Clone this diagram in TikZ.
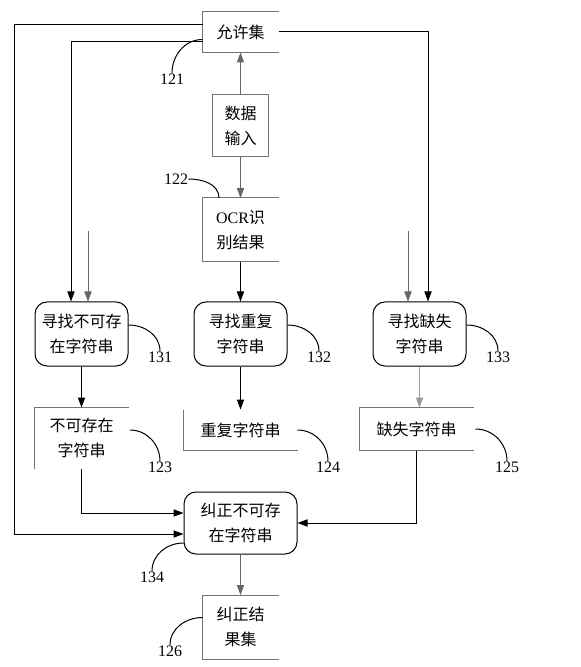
\documentclass[tikz,border=0pt]{standalone}
\usepackage{fontspec}
\setmainfont{Liberation Serif}
\newfontfamily\cjk{Noto Sans CJK SC}
\usetikzlibrary{arrows.meta}

\begin{document}
\begin{tikzpicture}[x=0.5pt, y=-0.5pt, node distance=52pt, line width=0.5pt,
  >={Triangle[length=5pt,width=3.6pt]},
  store/.style={inner sep=0pt, align=center, font=\cjk\fontsize{8}{12.5}\selectfont},
  proc/.style={store, draw, rounded corners=6pt, minimum width=46.5pt, minimum height=32pt},
  num/.style={inner sep=0pt, font=\fontsize{8}{9}\selectfont},
  wall/.style={draw=black!55}]
\useasboundingbox (0,0) rectangle (581,667);

\node[store, minimum width=37.5pt, minimum height=20pt] (allow) at (240.5,32) {允许集};
\node[store, wall, minimum width=28pt, minimum height=31pt] (data) [below of=allow, yshift=5pt] {数据\\输入};
\node[store, minimum width=37.5pt, minimum height=31.5pt] (ocr) [below of=data] {{\rmfamily OCR}识\\别结果};
\node[proc] (f132) [below of=ocr] {寻找重复\\字符串};
\node[proc] (f131) [node distance=79.5pt, left of=f132] {寻找不可存\\在字符串};
\node[proc] (f133) [node distance=89.5pt, right of=f132] {寻找缺失\\字符串};
\node[store, minimum width=47pt, minimum height=30pt] (s123) [below of=f131] {不可存在\\字符串};
\node[store, minimum width=56.5pt, minimum height=20pt] (s124) [below of=f132, yshift=4pt] {重复字符串};
\node[store, minimum width=56.5pt, minimum height=21pt] (s125) [below of=f133, yshift=4.5pt, xshift=-1.5pt] {缺失字符串};
\node[proc, minimum width=56.5pt, minimum height=31pt] (fix134) [below of=s124, yshift=5.5pt] {纠正不可存\\在字符串};
\node[store, minimum width=37.5pt, minimum height=31.5pt] (out126) [below of=fix134] {纠正结\\果集};

\foreach \n in {allow,ocr,s125,out126}
  \draw[wall] (\n.north east) -- (\n.north west) -- (\n.south west) -- (\n.south east);
\draw[wall] (s123.north east) -- (s123.north west) -- (s123.south west);
\draw[wall] (s124.north west) -- (s124.south west) -- (s124.south east);

\coordinate (in131) at (88,231);
\coordinate (in133) at (408,231);

\draw[->] ([yshift=3.5pt]allow.west) -- ++(-188,0) |- ([yshift=-5.5pt]fix134.west);
\draw[->] ([yshift=-5pt]allow.west) -| ([xshift=-5.25pt]f131.north);
\draw[->, black!60] (in131) -- (in131 |- f131.north);
\draw[->] (allow.east) -| ([xshift=4.25pt]f133.north);
\draw[->, black!60] (in133) -- (in133 |- f133.north);
\draw[->, black!60] (data) -- (allow);
\draw[->, black!60] (data) -- (ocr);
\draw[->] (ocr) -- (f132);
\draw[->] (f131) -- (s123);
\draw[->] (f132) -- (s124);
\draw[->, black!40] (f133.south) -- (f133.south |- s125.north);
\draw[->] (s123.south) |- ([yshift=5pt]fix134.west);
\draw[->] (s125.south) |- (fix134.east);
\draw[->, black!60] (fix134) -- (out126);

\node[num] (l121) at (172,79) {121};
\node[num] (l122) at (176,179) {122};
\node[num] (l131) at (160,357) {131};
\node[num] (l132) at (319,357) {132};
\node[num] (l133) at (498,357) {133};
\node[num] (l123) at (160,467) {123};
\node[num] (l124) at (328,467) {124};
\node[num] (l125) at (507,467) {125};
\node[num] (l134) at (152,577) {134};
\node[num] (l126) at (170,651) {126};

\draw ([yshift=-3.75pt]allow.west) to[out=180, in=90] (l121.north);
\draw (l122.east) to[out=0, in=90] ([xshift=-10.75pt]ocr.north);
\draw ([yshift=4.5pt]f131.east) to[out=0, in=90] (l131.north);
\draw ([yshift=4.5pt]f132.east) to[out=0, in=90] (l132.north);
\draw ([yshift=4.5pt]f133.east) to[out=0, in=90] (l133.north);
\draw ([yshift=4pt, xshift=0.5pt]s123.east) to[out=0, in=90] (l123.north);
\draw (s124.east) to[out=0, in=90] (l124.north);
\draw ([xshift=1pt]s125.east) to[out=0, in=90] (l125.north);
\draw ([yshift=-10pt]fix134.west) to[out=180, in=90] (l134.north);
\draw ([yshift=4.75pt]out126.west) to[out=180, in=90] (l126.north);
\end{tikzpicture}
\end{document}
